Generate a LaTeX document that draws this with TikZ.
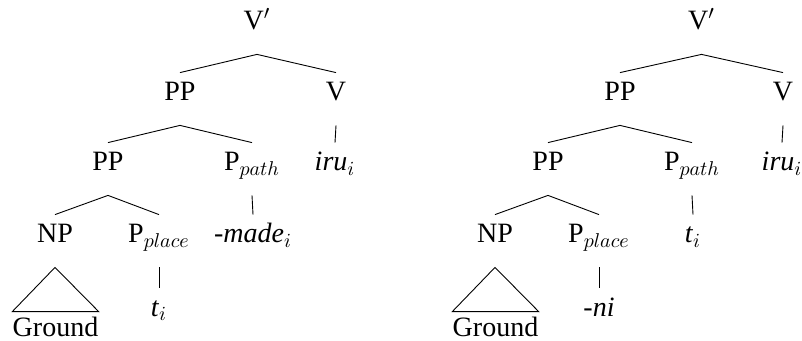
\documentclass[tikz,border=0pt]{standalone}
\usepackage{fontspec}
\setmainfont{LiberationSerif}[Extension=.ttf, UprightFont=*-Regular, ItalicFont=*-Italic, BoldFont=*-Bold]
\usetikzlibrary{calc}

\begin{document}
\begin{tikzpicture}[x=0.5pt, y=-0.5pt,
		lbl/.style={anchor=base, inner xsep=1pt, inner ysep=0pt, text height=14pt, text depth=12pt, font=\fontsize{14}{17}\selectfont},
		roof/.style={lbl, inner xsep=0pt, text height=12pt, text depth=3pt},
		branch/.style={line width=0.45pt}]
			%%%%% START %%%%%
			
			\useasboundingbox (0, 0) rectangle (802, 341);
			
			% left tree: -made
			\node[lbl] (vbarL) at (257, 30) {V$'$};
			\node[lbl] (ppL) at (180, 101) {PP};
			\node[lbl] (vL) at (336, 101) {V};
			\node[lbl] (pptwoL) at (108, 171) {PP};
			\node[lbl] (ppathL) at (252, 171) {P$_{path}$};
			\node[lbl] (iruL) at (335, 171) {\textit{iru}$_i$};
			\node[lbl] (npL) at (55, 243) {NP};
			\node[lbl] (pplaceL) at (159, 243) {P$_{place}$};
			\node[lbl] (madeL) at (253, 243) {\textit{-made}$_i$};
			\node[lbl] (traceL) at (159, 316) {\textit{t}$_i$};
			\node[roof] (groundL) at (55.5, 336) {Ground};
			
			\draw[branch] (ppL.north) -- (vbarL.south) -- (vL.north);
			\draw[branch] (pptwoL.north) -- (ppL.south) -- (ppathL.north);
			\draw[branch] (vL.south) -- (iruL.north);
			\draw[branch] (npL.north) -- (pptwoL.south) -- (pplaceL.north);
			\draw[branch] (ppathL.south) -- (madeL.north);
			\draw[branch] (pplaceL.south) -- (traceL.north);
			\draw[branch] (npL.south) -- (groundL.north west) -- (groundL.north east) -- cycle;
			
			% right tree: -ni
			\node[lbl] (vbarR) at (701.5, 30) {V$'$};
			\node[lbl] (ppR) at (620, 101) {PP};
			\node[lbl] (vR) at (783, 101) {V};
			\node[lbl] (pptwoR) at (548, 171) {PP};
			\node[lbl] (ppathR) at (692, 171) {P$_{path}$};
			\node[lbl] (iruR) at (782, 171) {\textit{iru}$_i$};
			\node[lbl] (npR) at (495, 243) {NP};
			\node[lbl] (pplaceR) at (599, 243) {P$_{place}$};
			\node[lbl] (traceR) at (693, 243) {\textit{t}$_i$};
			\node[lbl] (niR) at (599, 316) {\textit{-ni}};
			\node[roof] (groundR) at (495.5, 336) {Ground};
			
			\draw[branch] (ppR.north) -- (vbarR.south) -- (vR.north);
			\draw[branch] (pptwoR.north) -- (ppR.south) -- (ppathR.north);
			\draw[branch] (vR.south) -- (iruR.north);
			\draw[branch] (npR.north) -- (pptwoR.south) -- (pplaceR.north);
			\draw[branch] (ppathR.south) -- (traceR.north);
			\draw[branch] (pplaceR.south) -- (niR.north);
			\draw[branch] (npR.south) -- (groundR.north west) -- (groundR.north east) -- cycle;
			
			%%%%% END %%%%%
		\end{tikzpicture}
\end{document}
